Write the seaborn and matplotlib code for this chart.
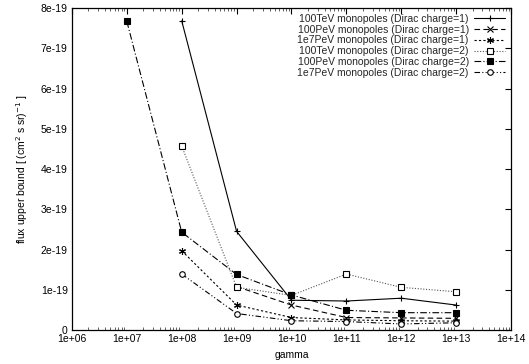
import matplotlib
matplotlib.use("Agg")
import matplotlib.pyplot as plt
import seaborn as sns
import numpy as np
import pandas as pd
from matplotlib.ticker import LogLocator, FuncFormatter, MultipleLocator, NullFormatter

sns.set_theme(style="white")
plt.rcParams['font.family'] = ['Liberation Sans', 'DejaVu Sans']

labels = [
    "100TeV monopoles (Dirac charge=1)",
    "100PeV monopoles (Dirac charge=1)",
    "1e7PeV monopoles (Dirac charge=1)",
    "100TeV monopoles (Dirac charge=2)",
    "100PeV monopoles (Dirac charge=2)",
    "1e7PeV monopoles (Dirac charge=2)",
]
x_s1 = [1e8, 1e9, 1e10, 1e11, 1e12, 1e13]
y_s1 = [7.68e-19, 2.45e-19, 0.74e-19, 0.72e-19, 0.79e-19, 0.62e-19]
x_s2 = [1e9, 1e10, 1e11, 1e12, 1e13]
y_s2 = [1.08e-19, 0.62e-19, 0.31e-19, 0.30e-19, 0.29e-19]
x_s3 = [1e8, 1e9, 1e10, 1e11, 1e12, 1e13]
y_s3 = [1.97e-19, 0.62e-19, 0.31e-19, 0.25e-19, 0.23e-19, 0.22e-19]
x_s4 = [1e8, 1e9, 1e10, 1e11, 1e12, 1e13]
y_s4 = [4.57e-19, 1.06e-19, 0.86e-19, 1.39e-19, 1.06e-19, 0.95e-19]
x_s5 = [1e7, 1e8, 1e9, 1e10, 1e11, 1e12, 1e13]
y_s5 = [7.67e-19, 2.43e-19, 1.38e-19, 0.87e-19, 0.49e-19, 0.43e-19, 0.43e-19]
x_s6 = [1e8, 1e9, 1e10, 1e11, 1e12, 1e13]
y_s6 = [1.39e-19, 0.41e-19, 0.23e-19, 0.21e-19, 0.15e-19, 0.18e-19]

xs = [x_s1, x_s2, x_s3, x_s4, x_s5, x_s6]
ys = [y_s1, y_s2, y_s3, y_s4, y_s5, y_s6]
markers = ["+", "x", (6, 2, 0), "s", "s", "o"]
mfcs = ["black", "black", "black", "white", "black", "white"]
msizes = [5, 4, 5, 4, 5, 4]
colors = ["black", "black", "black", "#555555", "black", "black"]
dashes = [(None, None), (5, 3), (2, 2), (1, 1.5), (6, 2, 1, 2), (5, 2, 1, 2, 1, 2)]

fig = plt.figure(figsize=(5.29, 3.64), dpi=100)
ax = fig.add_axes([0.136, 0.0934, 0.830, 0.8846])

for lab, xv, yv, mk, mfc, ms, ds, c in zip(labels, xs, ys, markers, mfcs, msizes, dashes, colors):
    df = pd.DataFrame({"gamma": xv, "flux": yv})
    kw = dict(color=c, lw=0.8, marker=mk, markersize=ms,
              markerfacecolor=mfc, markeredgecolor="black", markeredgewidth=0.8,
              label=lab)
    if ds[0] is not None:
        kw["dashes"] = ds
    sns.lineplot(data=df, x="gamma", y="flux", ax=ax, **kw)

ax.set_xscale("log")
ax.set_xlim(1e6, 1e14)
ax.set_ylim(0, 8e-19)
ax.xaxis.set_major_locator(LogLocator(base=10, numticks=20))
ax.xaxis.set_minor_locator(LogLocator(base=10, subs=np.arange(2, 10), numticks=100))
ax.xaxis.set_minor_formatter(NullFormatter())

def xfmt(v, pos):
    e = int(round(np.log10(v)))
    return "1e+%02d" % e
ax.xaxis.set_major_formatter(FuncFormatter(xfmt))

ax.yaxis.set_major_locator(MultipleLocator(1e-19))
def yfmt(v, pos):
    if abs(v) < 1e-25:
        return "0"
    return "%de-19" % int(round(v / 1e-19))
ax.yaxis.set_major_formatter(FuncFormatter(yfmt))

ax.tick_params(axis="both", which="major", direction="in", length=4, width=0.8,
               top=True, right=True, labelsize=7.5, pad=3, colors="black")
ax.tick_params(axis="x", which="minor", direction="in", length=2, width=0.5,
               top=True, bottom=True)
for s in ax.spines.values():
    s.set_color("black")
    s.set_linewidth(0.9)
    s.set_visible(True)

ax.set_xlabel("gamma", fontsize=7.5, color="black", labelpad=4)
ax.set_ylabel(r"flux upper bound [ (cm$^2$ s sr)$^{-1}$ ]", fontsize=7.5, color="black", labelpad=8)
ax.grid(False)

leg = ax.legend(loc="upper right", frameon=False, fontsize=7.5, markerfirst=False,
                handlelength=3.0, labelspacing=0.08, borderaxespad=0.15, handletextpad=0.5)
for t in leg.get_texts():
    t.set_ha("right")

fig.savefig("out.png", dpi=100, facecolor="white")
